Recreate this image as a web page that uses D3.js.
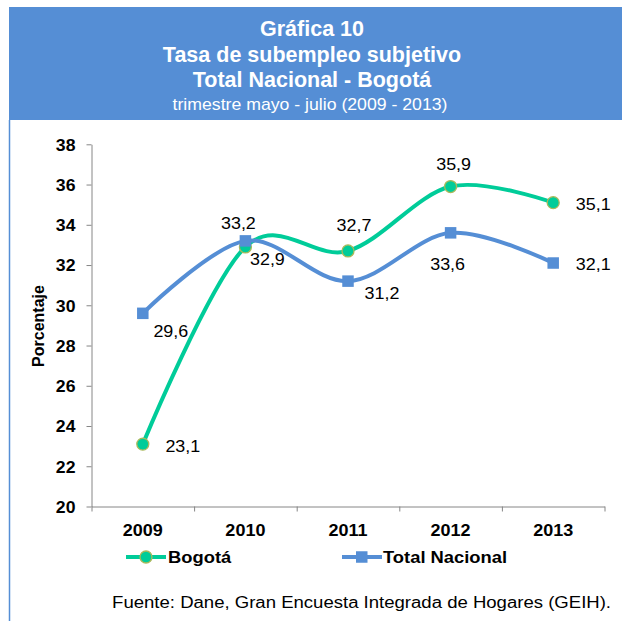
<!DOCTYPE html>
<html>
<head>
<meta charset="utf-8">
<script src="https://cdn.jsdelivr.net/npm/d3@7"></script>
<style>
  body { margin: 0; background: #fff; }
  text { font-family: "Liberation Sans", Arial, sans-serif; }
</style>
</head>
<body>
<div id="chart"></div>
<script>
// Data
const years = ["2009", "2010", "2011", "2012", "2013"]
const bogota = [23.1, 32.9, 32.7, 35.9, 35.1]
const nacional = [29.6, 33.2, 31.2, 33.6, 32.1]
const yTicks = [20, 22, 24, 26, 28, 30, 32, 34, 36, 38]
const titleLines = ["Gráfica 10", "Tasa de subempleo subjetivo", "Total Nacional - Bogotá"]
const subtitle = "trimestre mayo - julio (2009 - 2013)"
const yTitle = "Porcentaje"
const sourceText = "Fuente: Dane, Gran Encuesta Integrada de Hogares (GEIH)."

// label offsets (dx to text center, dy to baseline) relative to each point
const bogotaLabelPos = [[40, 8], [22, 18], [6, -20], [3, -17], [40, 7]]
const nacionalLabelPos = [[28, 24], [-7, -12], [34, 18], [-3, 37], [40, 7]]

const W = 622, H = 621
const blue = "#558ED5", green = "#00CC99", axisColor = "#868686"

const svg = d3.select("#chart").append("svg").attr("width", W).attr("height", H)

// Header box
svg.append("rect").attr("x", 9).attr("y", 7).attr("width", W - 9).attr("height", 113).attr("fill", blue)
svg.append("line").attr("x1", 9.5).attr("x2", 9.5).attr("y1", 120).attr("y2", H)
  .attr("stroke", blue).attr("stroke-width", 1.5)

// text with a slight horizontal stretch, like the reference
function stext(parent, x, y, str, s) {
  return parent.append("text")
    .attr("transform", `translate(${x},${y}) scale(${s},1)`)
    .text(str)
}

const titleY = [36, 61.5, 87]
titleLines.forEach((t, i) => {
  stext(svg, 312, titleY[i], t, 1.0).attr("text-anchor", "middle")
    .attr("font-size", 21.5).attr("font-weight", "bold").attr("fill", "#fff")
})
stext(svg, 310, 110, subtitle, 1.04).attr("text-anchor", "middle")
  .attr("font-size", 17).attr("fill", "#fff")

// Scales
const x = d3.scaleBand().domain(years).range([91.5, 604.5])
const xEdge = d3.scaleLinear().domain([0, years.length]).range([91.5, 604.5])
const y = d3.scaleLinear().domain([20, 38]).range([506.5, 144.3])
const cx = (d) => x(d) + x.bandwidth() / 2

// Axes
const sy = 1.07
const gy = svg.append("g").attr("transform", "translate(91.5,0)")
  .call(d3.axisLeft(y).tickValues(yTicks).tickSize(5).tickSizeOuter(0).tickPadding(11))
gy.select(".domain").attr("stroke", axisColor)
gy.selectAll(".tick line").attr("stroke", axisColor)
gy.selectAll(".tick text").attr("font-size", 16.5).attr("font-weight", "bold").attr("fill", "#000")
  .attr("font-family", null).attr("x", -16 / sy).attr("dy", "0.36em")
  .attr("transform", `scale(${sy},1)`)

const gx = svg.append("g").attr("transform", "translate(0,506.5)")
  .call(d3.axisBottom(xEdge).ticks(years.length).tickSize(5).tickSizeOuter(0).tickFormat(""))
gx.select(".domain").attr("stroke", axisColor)
gx.selectAll(".tick line").attr("stroke", axisColor)

const gxl = svg.append("g").attr("transform", "translate(0,506.5)")
  .call(d3.axisBottom(x).tickSize(0).tickPadding(17))
gxl.select(".domain").remove()
gxl.selectAll(".tick text").attr("font-size", 17).attr("font-weight", "bold").attr("fill", "#000")
  .attr("font-family", null).attr("dy", "0.71em").attr("transform", "scale(1.06,1)")

// Y title
svg.append("text").attr("transform", "translate(44,326) rotate(-90)")
  .attr("text-anchor", "middle").attr("font-size", 16).attr("font-weight", "bold")
  .text(yTitle)

// Lines
const line = d3.line()
  .x((d, i) => cx(years[i]))
  .y((d) => y(d))
  .curve(d3.curveCardinal.tension(0))

const fmt = (v) => d3.format(".1f")(v).replace(".", ",")

svg.append("path").datum(bogota).attr("d", line)
  .attr("fill", "none").attr("stroke", green).attr("stroke-width", 4)
svg.append("path").datum(nacional).attr("d", line)
  .attr("fill", "none").attr("stroke", blue).attr("stroke-width", 4)

svg.selectAll(".mb").data(bogota).join("circle").attr("class", "mb")
  .attr("cx", (d, i) => cx(years[i])).attr("cy", (d) => y(d)).attr("r", 6)
  .attr("fill", green).attr("stroke", "#A9B85A").attr("stroke-width", 1.3)

svg.selectAll(".mn").data(nacional).join("rect").attr("class", "mn")
  .attr("x", (d, i) => cx(years[i]) - 5.75).attr("y", (d) => y(d) - 5.75)
  .attr("width", 11.5).attr("height", 11.5).attr("fill", blue)

// Data labels
const labels = svg.append("g").attr("font-size", 16).attr("fill", "#000")
bogota.forEach((v, i) => {
  stext(labels, cx(years[i]) + bogotaLabelPos[i][0], y(v) + bogotaLabelPos[i][1], fmt(v), 1.12)
    .attr("text-anchor", "middle")
})
nacional.forEach((v, i) => {
  stext(labels, cx(years[i]) + nacionalLabelPos[i][0], y(v) + nacionalLabelPos[i][1], fmt(v), 1.12)
    .attr("text-anchor", "middle")
})

// Legend
const legendY = 557
const lg1 = svg.append("g")
lg1.append("line").attr("x1", 126).attr("x2", 166).attr("y1", legendY).attr("y2", legendY)
  .attr("stroke", green).attr("stroke-width", 4)
lg1.append("circle").attr("cx", 146).attr("cy", legendY).attr("r", 6)
  .attr("fill", green).attr("stroke", "#A9B85A").attr("stroke-width", 1.3)
stext(lg1, 168, legendY + 6.3, "Bogotá", 1.08).attr("font-size", 17).attr("font-weight", "bold")

const lg2 = svg.append("g")
lg2.append("line").attr("x1", 342).attr("x2", 382).attr("y1", legendY).attr("y2", legendY)
  .attr("stroke", blue).attr("stroke-width", 4)
lg2.append("rect").attr("x", 356).attr("y", legendY - 5.75).attr("width", 11.5).attr("height", 11.5)
  .attr("fill", blue)
stext(lg2, 383, legendY + 6.3, "Total Nacional", 1.08).attr("font-size", 17).attr("font-weight", "bold")

// Source
stext(svg, 611, 608, sourceText, 1.16).attr("text-anchor", "end").attr("font-size", 16).attr("fill", "#000")
</script>
</body>
</html>
